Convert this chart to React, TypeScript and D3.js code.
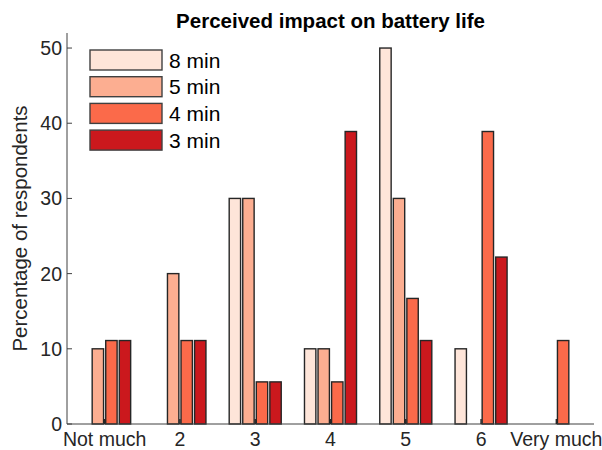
import React, { useEffect, useRef } from "react";
import * as d3 from "d3";

// perceived impact survey, % of respondents per answer
const categories = ["Not much", "2", "3", "4", "5", "6", "Very much"];
const seriesNames = ["8 min", "5 min", "4 min", "3 min"];
const min8 = [0, 0, 30, 10, 50, 10, 0];
const min5 = [10, 20, 30, 10, 30, 0, 0];
const min4 = [11.1, 11.1, 5.6, 5.6, 16.7, 38.9, 11.1];
const min3 = [11.1, 11.1, 5.6, 38.9, 11.1, 22.2, 0];
const yTicks = [0, 10, 20, 30, 40, 50];
const colors = ["#fee5d9", "#fcae91", "#fb6a4a", "#cb181d"];

const App = () => {
  const ref = useRef<SVGSVGElement>(null);

  useEffect(() => {
    const width = 602;
    const height = 450;
    const margin = { top: 33, right: 8, bottom: 26, left: 67 };
    const svg = d3.select(ref.current);
    svg.selectAll("*").remove();

    const font = "'Liberation Sans', Arial, Helvetica, sans-serif";
    const axisColor = "#404040";
    const series = [min8, min5, min4, min3];

    const x = d3
      .scaleLinear()
      .domain([0.5, categories.length + 0.5])
      .range([margin.left, width - margin.right]);
    const y = d3
      .scaleLinear()
      .domain([0, 52])
      .range([height - margin.bottom, margin.top]);

    const step = x(2) - x(1);
    const barStep = step * 0.18;
    const barW = barStep * 0.84;

    // bars (zero values are skipped)
    series.forEach((vals, si) => {
      const pts = vals.map((v, i) => ({ v, i })).filter((d) => d.v > 0);
      svg
        .append("g")
        .selectAll("rect")
        .data(pts)
        .join("rect")
        .attr("x", (d) => x(d.i + 1) + (si - 1.5) * barStep - barW / 2)
        .attr("y", (d) => y(d.v))
        .attr("width", barW)
        .attr("height", (d) => y(0) - y(d.v))
        .attr("fill", colors[si])
        .attr("stroke", "#262626")
        .attr("stroke-width", 1.4);
    });

    // axes
    const g = svg.append("g").attr("font-family", font);
    g.append("line")
      .attr("x1", x(0.5))
      .attr("x2", x(0.5))
      .attr("y1", y(0))
      .attr("y2", y(52))
      .attr("stroke", axisColor);
    g.append("line")
      .attr("x1", x(0.5))
      .attr("x2", x(categories.length + 0.5))
      .attr("y1", y(0))
      .attr("y2", y(0))
      .attr("stroke", axisColor);

    yTicks.forEach((t) => {
      g.append("line")
        .attr("x1", x(0.5))
        .attr("x2", x(0.5) + 5)
        .attr("y1", y(t))
        .attr("y2", y(t))
        .attr("stroke", axisColor);
      g.append("text")
        .attr("x", x(0.5) - 5)
        .attr("y", y(t))
        .attr("dy", "0.36em")
        .attr("text-anchor", "end")
        .attr("font-size", 19.5)
        .attr("fill", "#262626")
        .text(t);
    });

    categories.forEach((c, i) => {
      g.append("line")
        .attr("x1", x(i + 1))
        .attr("x2", x(i + 1))
        .attr("y1", y(0))
        .attr("y2", y(0) - 5)
        .attr("stroke", "#262626")
        .attr("stroke-width", 1.5);
      g.append("text")
        .attr("x", x(i + 1))
        .attr("y", y(0) + 22)
        .attr("text-anchor", "middle")
        .attr("font-size", 19.5)
        .attr("fill", "#262626")
        .text(c);
    });

    g.append("text")
      .attr("transform", `translate(27,${(y(0) + y(52)) / 2}) rotate(-90)`)
      .attr("text-anchor", "middle")
      .attr("font-size", 20.5)
      .attr("fill", "#262626")
      .text("Percentage of respondents");

    g.append("text")
      .attr("x", (x(0.5) + x(categories.length + 0.5)) / 2)
      .attr("y", 28)
      .attr("text-anchor", "middle")
      .attr("font-size", 20.5)
      .attr("font-weight", "bold")
      .attr("fill", "#000")
      .text("Perceived impact on battery life");

    // legend
    const leg = g.append("g");
    seriesNames.forEach((name, i) => {
      const ly = 50 + i * 26.7;
      leg
        .append("rect")
        .attr("x", 90)
        .attr("y", ly)
        .attr("width", 72)
        .attr("height", 20)
        .attr("fill", colors[i])
        .attr("stroke", "#404040")
        .attr("stroke-width", 1.4);
      leg
        .append("text")
        .attr("x", 169)
        .attr("y", ly + 10)
        .attr("dy", "0.36em")
        .attr("font-size", 21)
        .attr("fill", "#000")
        .text(name);
    });
  }, []);

  return (
    <svg
      ref={ref}
      width={602}
      height={450}
      style={{ position: "absolute", left: 0, top: 0 }}
    />
  );
};

export default App;
